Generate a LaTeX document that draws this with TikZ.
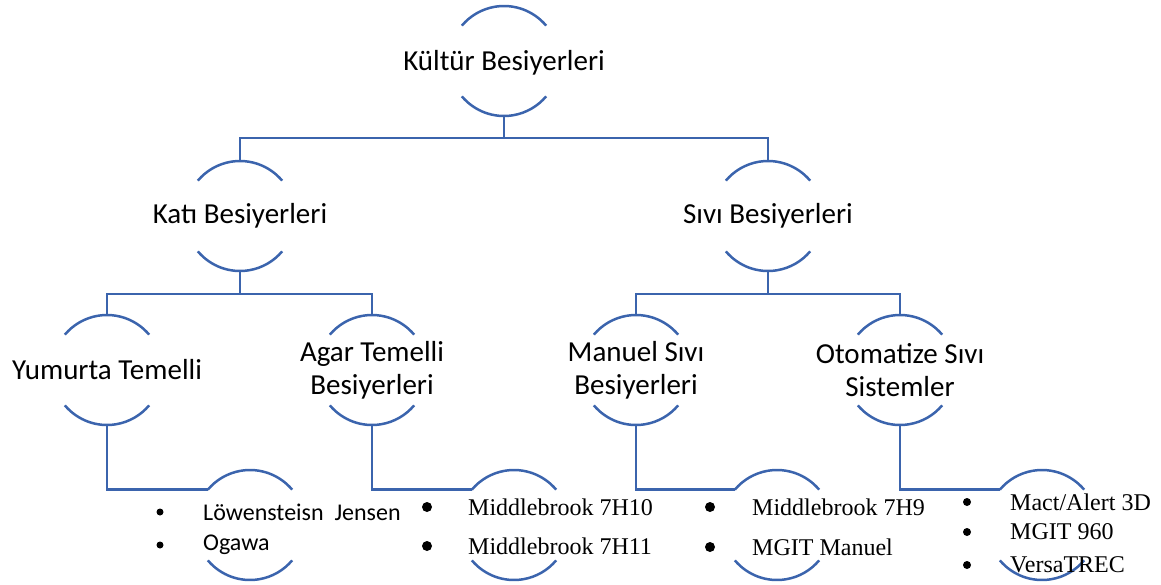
\documentclass[tikz,border=0pt]{standalone}
\usepackage{fontspec}
\setmainfont{Carlito}
\newfontfamily\tnr{Liberation Serif}
\definecolor{lineblue}{RGB}{59,100,173}
\begin{document}
\begin{tikzpicture}[x=1pt,y=-1pt,
  hub/.style={circle, minimum size=110pt, inner sep=0pt, outer sep=0pt},
  arcline/.style={draw=lineblue, line width=2.5pt},
  conn/.style={draw=lineblue, line width=2.5pt},
  lbl/.style={font=\fontsize{29}{33}\selectfont, align=center, text=black},
  itemc/.style={anchor=west, inner sep=0pt, font=\fontsize{24}{28}\selectfont},
  itemt/.style={anchor=west, inner sep=0pt, font=\tnr\fontsize{24}{28}\selectfont},
  dot/.style={circle, fill=black, inner sep=0pt, minimum size=#1}
]
\useasboundingbox (0,0) rectangle (1161,584);

\node[hub, label={[lbl,yshift=-2pt]center:Kültür Besiyerleri}] (k) at (504,61) {};
\node[hub, label={[lbl]center:Katı Besiyerleri}] (kati) at (240,216) {};
\node[hub, label={[lbl]center:Sıvı Besiyerleri}] (sivi) at (768,216) {};
\node[hub, label={[lbl]center:Yumurta Temelli}] (yum) at (107,370) {};
\node[hub, label={[lbl]center:{Agar Temelli\\Besiyerleri}}] (agar) at (372,370) {};
\node[hub, label={[lbl]center:{Manuel Sıvı\\Besiyerleri}}] (man) at (636,370) {};
\node[hub, label={[lbl]center:{Otomatize Sıvı\\Sistemler}}] (oto) at (900,370) {};
\node[hub] (l1) at (250,525) {};
\node[hub] (l2) at (514,525) {};
\node[hub] (l3) at (777,525) {};
\node[hub] (l4) at (1042,525) {};

\foreach \n in {k,kati,sivi,yum,agar,man,oto,l1,l2,l3,l4} {
  \draw[arcline] (\n.40) arc[start angle=40, end angle=140, radius=55pt];
  \draw[arcline] (\n.220) arc[start angle=220, end angle=320, radius=55pt];
}

% connectors
\draw[conn] (k.south) -- ++(0,22) coordinate (kb);
\draw[conn] (kb) -| (kati.north);
\draw[conn] (kb) -| (sivi.north);
\draw[conn] (kati.south) -- ++(0,23) coordinate (katib);
\draw[conn] (katib) -| (yum.north);
\draw[conn] (katib) -| (agar.north);
\draw[conn] (sivi.south) -- ++(0,23) coordinate (sivib);
\draw[conn] (sivib) -| (man.north);
\draw[conn] (sivib) -| (oto.north);
\draw[conn] (yum.south) |- (l1.140);
\draw[conn] (agar.south) |- (l2.140);
\draw[conn] (man.south) |- (l3.140);
\draw[conn] (oto.south) |- (l4.140);

% leaf lists
\node[dot=7pt] (b11) at (160,512) {};
\node[dot=7pt] (b12) at (160,545) {};
\node[itemc] (t11) at (203,512) {Löwensteisn\ \ Jensen};
\node[itemc] (t12) at (203,545) {Ogawa};

\node[dot=10pt] (b21) at (427,507) {};
\node[dot=10pt] (b22) at (427,546) {};
\node[itemt] (t21) at (468,507) {Middlebrook 7H10};
\node[itemt] (t22) at (468,546) {Middlebrook 7H11};

\node[dot=10pt] (b31) at (710,507) {};
\node[dot=10pt] (b32) at (710,547) {};
\node[itemt] (t31) at (752,507) {Middlebrook 7H9};
\node[itemt] (t32) at (752,547) {MGIT Manuel};

\node[dot=8pt] (b41) at (967,502) {};
\node[dot=8pt] (b42) at (967,532) {};
\node[dot=8pt] (b43) at (967,565) {};
\node[itemt] (t41) at (1010,502) {Mact/Alert 3D};
\node[itemt] (t42) at (1010,532) {MGIT 960};
\node[itemt] (t43) at (1010,565) {VersaTREC};
\end{tikzpicture}
\end{document}
